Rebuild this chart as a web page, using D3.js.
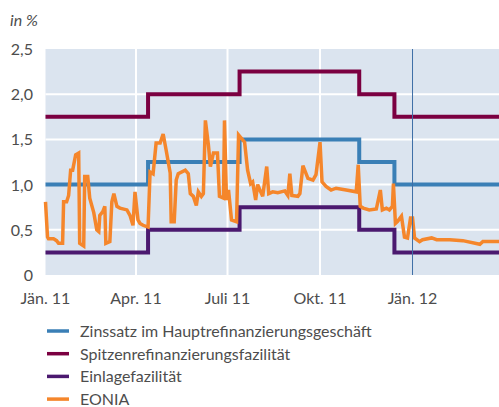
<!DOCTYPE html>
<html>
<head>
<meta charset="utf-8">
<script src="https://cdn.jsdelivr.net/npm/d3@7"></script>
<style>
  body { margin: 0; background: #fff; }
  text { font-family: Lato, "Open Sans", sans-serif; fill: #4d4d4d; }
</style>
</head>
<body>
<script>
// policy rate change dates (step after)
var rateDates = ["2011-01-01", "2011-04-13", "2011-07-13", "2011-11-09", "2011-12-14", "2012-03-27"];
var mroRate = [1.00, 1.25, 1.50, 1.25, 1.00, 1.00];
var marginalRate = [1.75, 2.00, 2.25, 2.00, 1.75, 1.75];
var depositRate = [0.25, 0.50, 0.75, 0.50, 0.25, 0.25];

var eoniaDates = ["2011-01-01", "2011-01-03", "2011-01-04", "2011-01-09", "2011-01-12", "2011-01-14", "2011-01-18",
    "2011-01-19", "2011-01-22", "2011-01-24", "2011-01-26", "2011-01-28", "2011-01-31", "2011-02-03", "2011-02-04",
    "2011-02-08", "2011-02-09", "2011-02-12", "2011-02-14", "2011-02-18", "2011-02-21", "2011-02-23", "2011-02-24",
    "2011-02-27", "2011-03-01", "2011-03-02", "2011-03-06", "2011-03-08", "2011-03-10", "2011-03-13", "2011-03-16",
    "2011-03-23", "2011-03-26", "2011-03-29", "2011-03-31", "2011-04-03", "2011-04-05", "2011-04-08", "2011-04-13",
    "2011-04-15", "2011-04-18", "2011-04-21", "2011-04-25", "2011-04-28", "2011-05-01", "2011-05-05", "2011-05-06",
    "2011-05-09", "2011-05-11", "2011-05-13", "2011-05-20", "2011-05-23", "2011-05-25", "2011-05-28", "2011-05-31",
    "2011-06-02", "2011-06-05", "2011-06-07", "2011-06-09", "2011-06-12", "2011-06-14", "2011-06-17", "2011-06-21",
    "2011-06-23", "2011-06-27", "2011-06-28", "2011-06-30", "2011-07-02", "2011-07-05", "2011-07-10", "2011-07-12",
    "2011-07-18", "2011-07-21", "2011-07-24", "2011-07-26", "2011-07-29", "2011-07-31", "2011-08-03", "2011-08-05",
    "2011-08-09", "2011-08-11", "2011-08-15", "2011-08-20", "2011-08-27", "2011-08-30", "2011-09-01", "2011-09-03",
    "2011-09-09", "2011-09-11", "2011-09-14", "2011-09-19", "2011-09-24", "2011-09-27", "2011-10-01", "2011-10-03",
    "2011-10-07", "2011-10-12", "2011-10-17", "2011-10-27", "2011-11-06", "2011-11-08", "2011-11-10", "2011-11-13",
    "2011-11-19", "2011-11-26", "2011-11-30", "2011-12-02", "2011-12-06", "2011-12-09", "2011-12-12", "2011-12-13",
    "2011-12-15", "2011-12-17", "2011-12-21", "2011-12-24", "2011-12-27", "2011-12-30", "2012-01-01", "2012-01-03",
    "2012-01-08", "2012-01-11", "2012-01-20", "2012-01-25", "2012-02-07", "2012-02-20", "2012-03-08", "2012-03-11",
    "2012-03-27"];
var eoniaValues = [0.81, 0.42, 0.40, 0.40, 0.38, 0.35, 0.35,
    0.81, 0.81, 0.88, 1.16, 1.16, 1.33, 1.35, 0.35,
    0.32, 1.09, 1.09, 0.85, 0.69, 0.50, 0.48, 0.66,
    0.70, 0.76, 0.35, 0.37, 0.81, 0.90, 0.76, 0.74,
    0.72, 0.66, 0.55, 0.92, 0.61, 0.57, 0.55, 0.53,
    1.14, 1.12, 1.46, 1.46, 1.56, 1.38, 1.13, 0.59,
    0.59, 1.05, 1.12, 1.16, 1.12, 0.90, 0.87, 0.77,
    0.92, 0.87, 0.90, 1.71, 1.44, 1.20, 1.35, 1.35,
    0.87, 0.85, 1.71, 0.83, 0.94, 0.61, 0.59, 1.55,
    1.47, 1.16, 1.01, 1.03, 0.83, 1.00, 0.92, 0.87,
    1.20, 0.90, 0.92, 0.91, 0.93, 0.88, 1.12, 0.88,
    0.87, 0.90, 1.21, 1.07, 1.05, 1.11, 1.47, 1.03,
    0.98, 0.94, 0.96, 0.94, 0.92, 1.22, 0.76, 0.74,
    0.72, 0.73, 0.94, 0.72, 0.74, 0.72, 0.76, 1.01,
    0.57, 0.59, 0.65, 0.42, 0.41, 0.63, 0.63, 0.41,
    0.37, 0.39, 0.41, 0.39, 0.39, 0.38, 0.34, 0.37,
    0.37];

var yTicks = [0, 0.5, 1.0, 1.5, 2.0, 2.5];
var xTickDates = ["2011-01-01", "2011-04-01", "2011-07-01", "2011-10-01", "2012-01-01"];
var xTickLabels = ["Jän. 11", "Apr. 11", "Juli 11", "Okt. 11", "Jän. 12"];

var seriesNames = ["Zinssatz im Hauptrefinanzierungsgeschäft", "Spitzenrefinanzierungsfazilität", "Einlagefazilität", "EONIA"];
var seriesColors = ["#3a7fb6", "#7b0041", "#4b196f", "#f5862b"];

var parse = d3.timeParse("%Y-%m-%d");
var width = 499, height = 407;

var svg = d3.select("body").append("svg")
    .attr("width", width)
    .attr("height", height);

var x = d3.scaleTime()
    .domain([parse("2011-01-01"), parse("2012-03-27")])
    .range([45.5, 499]);

var y = d3.scaleLinear()
    .domain([0, 2.5])
    .range([275, 49]);

// plot background
svg.append("rect")
    .attr("x", x.range()[0])
    .attr("y", y(2.5))
    .attr("width", x.range()[1] - x.range()[0])
    .attr("height", y(0) - y(2.5))
    .attr("fill", "#dbe4ef");

// gridlines
svg.selectAll(".hgrid")
    .data(yTicks.filter(function(d) { return d > 0 && d < 2.5; }))
    .enter()
    .append("line")
    .attr("x1", x.range()[0])
    .attr("x2", x.range()[1])
    .attr("y1", function(d) { return y(d); })
    .attr("y2", function(d) { return y(d); })
    .attr("stroke", "#fff")
    .attr("stroke-width", 2);

svg.selectAll(".vgrid")
    .data(xTickDates.slice(1, 4))
    .enter()
    .append("line")
    .attr("x1", function(d) { return x(parse(d)); })
    .attr("x2", function(d) { return x(parse(d)); })
    .attr("y1", y(2.5))
    .attr("y2", y(0))
    .attr("stroke", "#fff")
    .attr("stroke-width", 2);

// policy rate lines
var stepLine = d3.line()
    .curve(d3.curveStepAfter)
    .x(function(d) { return x(d[0]); })
    .y(function(d) { return y(d[1]); });

[mroRate, marginalRate, depositRate].forEach(function(vals, i) {
    var pts = rateDates.map(function(d, j) { return [parse(d), vals[j]]; });
    svg.append("path")
        .datum(pts)
        .attr("fill", "none")
        .attr("stroke", seriesColors[i])
        .attr("stroke-width", 4)
        .attr("d", stepLine);
});

// EONIA
var eonia = eoniaDates.map(function(d, j) { return [parse(d), eoniaValues[j]]; });
svg.append("path")
    .datum(eonia)
    .attr("fill", "none")
    .attr("stroke", seriesColors[3])
    .attr("stroke-width", 3.5)
    .attr("stroke-linejoin", "miter")
    .attr("stroke-miterlimit", 3)
    .attr("d", d3.line()
        .x(function(d) { return x(d[0]); })
        .y(function(d) { return y(d[1]); }));

// year marker
svg.append("line")
    .attr("x1", x(parse("2012-01-01")))
    .attr("x2", x(parse("2012-01-01")))
    .attr("y1", y(2.5))
    .attr("y2", y(0))
    .attr("stroke", "#3d6ea6")
    .attr("stroke-width", 1);

// y axis labels
var fmt = function(d) { return d === 0 ? "0" : d3.format(".1f")(d).replace(".", ","); };
svg.selectAll(".ylab")
    .data(yTicks)
    .enter()
    .append("text")
    .attr("x", 33)
    .attr("y", function(d) { return y(d) + 6; })
    .attr("text-anchor", "end")
    .style("font-size", "16px")
    .text(fmt);

svg.append("text")
    .attr("x", 10)
    .attr("y", 26)
    .style("font-size", "16px")
    .style("font-style", "italic")
    .text("in %");

// x axis labels
svg.selectAll(".xlab")
    .data(xTickDates)
    .enter()
    .append("text")
    .attr("x", function(d) { return x(parse(d)); })
    .attr("y", 304)
    .attr("text-anchor", "middle")
    .style("font-size", "16px")
    .text(function(d, i) { return xTickLabels[i]; });

// legend
var legend = svg.selectAll(".leg")
    .data(seriesNames)
    .enter()
    .append("g")
    .attr("transform", function(d, i) { return "translate(47," + (331 + i * 22.7) + ")"; });

legend.append("line")
    .attr("x1", 0)
    .attr("x2", 22)
    .attr("stroke", function(d, i) { return seriesColors[i]; })
    .attr("stroke-width", 3.5);

legend.append("text")
    .attr("x", 33)
    .attr("y", 6)
    .style("font-size", "16px")
    .text(function(d) { return d; });
</script>
</body>
</html>
